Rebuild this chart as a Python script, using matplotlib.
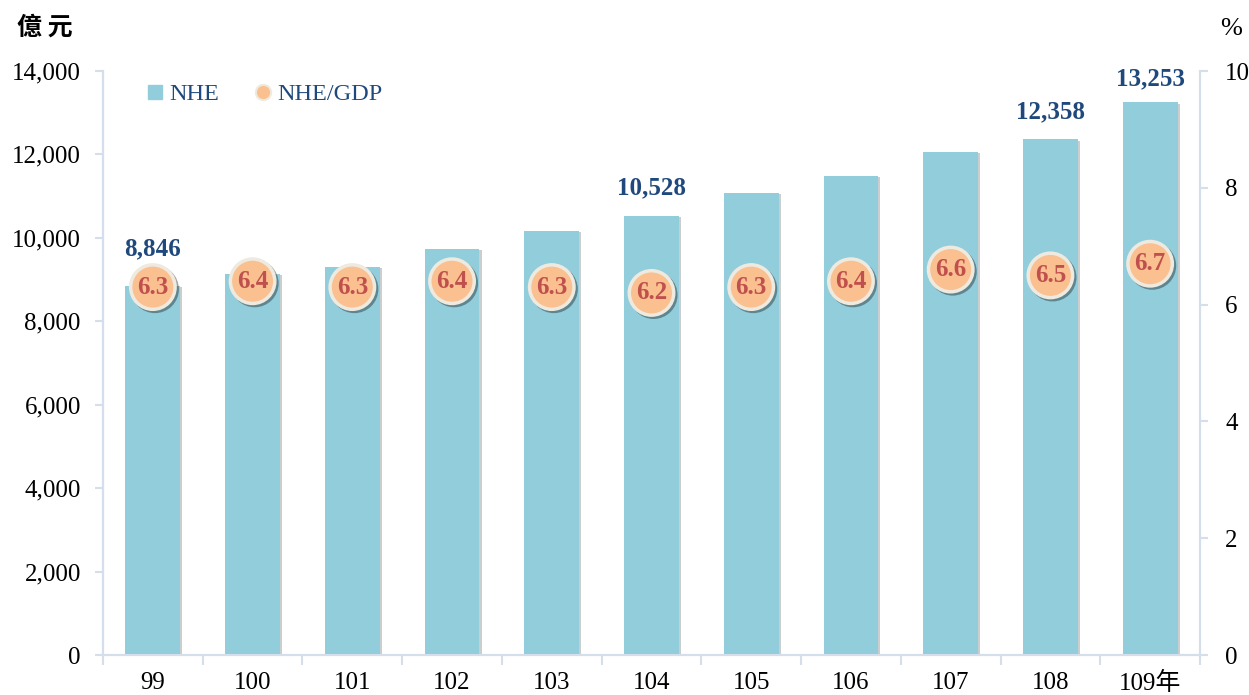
import numpy as np
import matplotlib.pyplot as plt
import matplotlib.patheffects as pe

plt.rcParams['font.family'] = ['Liberation Serif', 'Noto Sans CJK TC']

years = ['99', '100', '101', '102', '103', '104', '105', '106', '107', '108', '109年']
nhe = [8846, 9140, 9300, 9740, 10165, 10528, 11078, 11484, 12060, 12358, 13253]
ratio = [6.3, 6.4, 6.3, 6.4, 6.3, 6.2, 6.3, 6.4, 6.6, 6.5, 6.7]
shown = {0: 27, 5: 20, 9: 20, 10: 17}  # bars with value labels -> offset (pt)

axis_col = '#d5dfec'
bar_col = '#92cddc'
dot_col = '#fac090'
lab_col = '#1f497d'

fig = plt.figure(figsize=(12.49, 6.95), dpi=100)
ax = fig.add_axes([103/1249, 40/695, 1097/1249, 584/695])
ax2 = ax.twinx()

x = np.arange(len(years))
ax.bar(x, nhe, width=0.55, color=bar_col, zorder=2,
       path_effects=[pe.SimplePatchShadow(offset=(1.5, -1), alpha=0.25), pe.Normal()])
for i, off in shown.items():
    ax.annotate(f'{nhe[i]:,}', (x[i], nhe[i]), xytext=(0, off), textcoords='offset points',
                ha='center', va='center', fontsize=18, fontweight='bold', color=lab_col)

ax2.plot(x, ratio, 'o', ms=32, mfc=dot_col, mec='#eeeae0', mew=2.5, zorder=3,
         path_effects=[pe.SimpleLineShadow(offset=(1.5, -1.5), alpha=0.35), pe.Normal()])
for i in range(len(x)):
    ax2.text(x[i], ratio[i], f'{ratio[i]:.1f}', ha='center', va='center',
             fontsize=18, fontweight='bold', color='#c0504d', zorder=4)

ax.set_xlim(-0.5, len(years) - 0.5)
ax.set_ylim(0, 14000)
ax2.set_ylim(0, 10)
ax.set_yticks(range(0, 14001, 2000))
ax.set_yticklabels([f'{v:,}' for v in range(0, 14001, 2000)])
ax2.set_yticks(range(0, 11, 2))

ax.set_xticks(x)
ax.set_xticklabels(years)
ax.set_xticks(np.arange(-0.5, len(years)), minor=True)
ax.tick_params(axis='x', which='major', length=0, labelsize=18, pad=12)
ax.tick_params(axis='x', which='minor', length=7, color=axis_col, width=1.5)
ax.tick_params(axis='y', labelsize=18, length=6, color=axis_col, width=1.5, pad=10)
ax2.tick_params(axis='y', labelsize=18, length=6, color=axis_col, width=1.5, pad=12)

for a in (ax, ax2):
    a.spines['top'].set_visible(False)
    for s in ('left', 'right', 'bottom'):
        a.spines[s].set_color(axis_col)
        a.spines[s].set_linewidth(1.5)

fig.text(45/1249, 1 - 28/695, '億 元', fontsize=18, fontweight='bold',
         family=['Noto Sans CJK TC'], ha='center', va='center')
fig.text(1231/1249, 1 - 29/695, '%', fontsize=19, ha='center', va='center')

# legend
h1 = plt.Line2D([], [], marker='s', ls='', ms=10, color=bar_col)
h2 = plt.Line2D([], [], marker='o', ls='', ms=11, mfc=dot_col, mec='#eeeae0', mew=1.5)
leg = ax.legend([h1, h2], ['NHE', 'NHE/GDP'], loc='center left', bbox_to_anchor=(0.014, 0.96),
                ncol=2, frameon=False, fontsize=17.5, handletextpad=0.0, columnspacing=1.2,
                handlelength=1.2)
for t in leg.get_texts():
    t.set_color(lab_col)

fig.savefig('out.png', dpi=100)
